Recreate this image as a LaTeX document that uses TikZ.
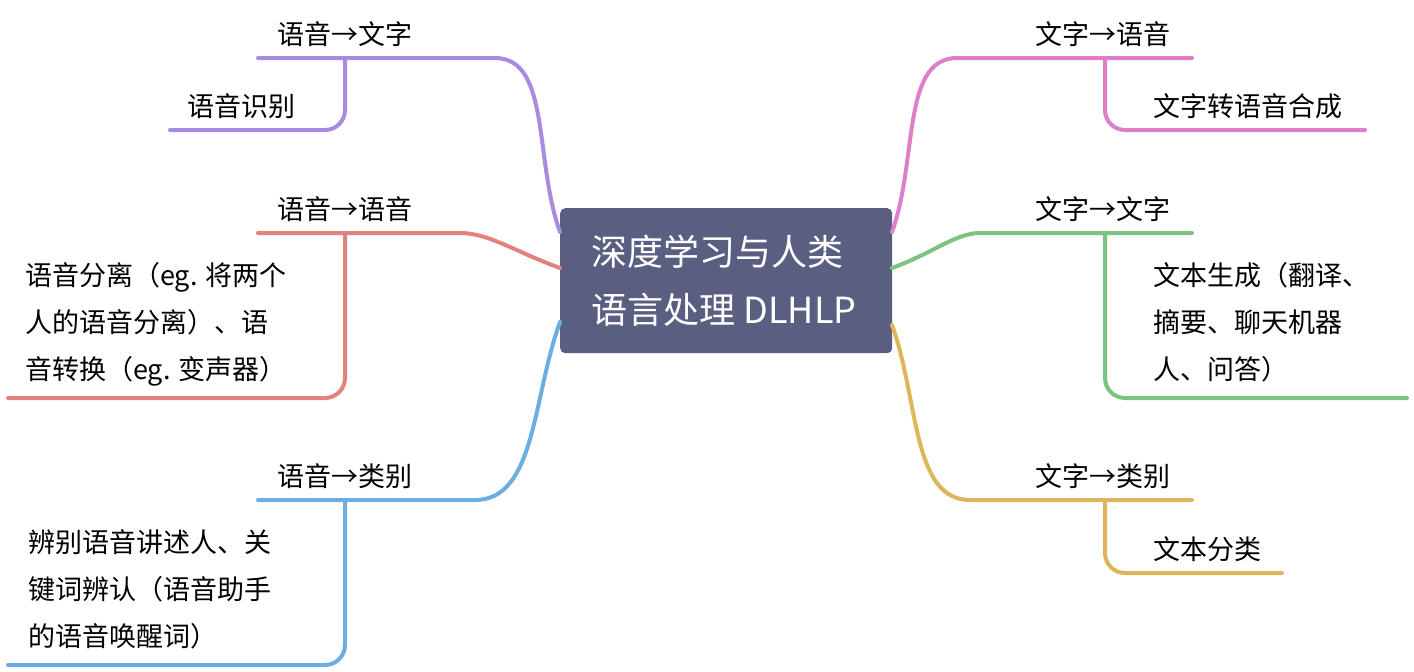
\documentclass[tikz,border=0pt]{standalone}
\usepackage{fontspec}
\setmainfont{Noto Sans CJK SC}
\usetikzlibrary{positioning}
\definecolor{hub}{HTML}{5A5F82}
\definecolor{cpurple}{HTML}{A68BDF}
\definecolor{cred}{HTML}{E3817E}
\definecolor{cblue}{HTML}{6CAEE0}
\definecolor{cpink}{HTML}{E07FC9}
\definecolor{cgreen}{HTML}{7BC37E}
\definecolor{cyellow}{HTML}{DDB65A}
\tikzset{
    branch/.style={
        line width=4pt,
        line cap=round,
        rounded corners=20pt,
    },
    topic/.style={
        anchor=south west,
        inner sep=0pt,
        font=\fontsize{27}{32}\selectfont,
    },
    leaf/.style={
        anchor=north west,
        inner sep=0pt,
        align=left,
        font=\fontsize{27}{47}\selectfont,
    },
}

\begin{document}
\begin{tikzpicture}[x=1pt,y=-1pt]
    \useasboundingbox (0,0) rectangle (1414,672);
    \node [fill=hub,rounded corners=5pt,minimum width=332pt,minimum height=145pt,anchor=north west] (hub) at (560,208) {};
    \node [text=white,anchor=west,align=left,font=\fontsize{36}{58}\selectfont] (hubtext) at (588,281) {深度学习与人类\\语言处理 DLHLP};

    % left side
    \node [topic] (s2w) at (277,47) {语音→文字};
    \draw [branch,cpurple] (560,232) to[out=110,in=0] (475,58) -- (258,58);
    \draw [branch,cpurple] (345,58) |- (170,130);
    \node [topic] (asr) at (187,119) {语音识别};

    \node [topic] (s2s) at (277,222) {语音→语音};
    \draw [branch,cred] (560,268) to[out=160,in=0] (440,233) -- (258,233);
    \draw [branch,cred] (345,233) |- (8,398);
    \node [leaf] (sep) at (25,262) {语音分离（eg. 将两个\\人的语音分离）、语\\音转换（eg. 变声器）};

    \node [topic] (s2c) at (277,489) {语音→类别};
    \draw [branch,cblue] (560,322) to[out=250,in=0] (455,500) -- (258,500);
    \draw [branch,cblue] (345,500) |- (8,665);
    \node [leaf] (spk) at (28,529) {辨别语音讲述人、关\\键词辨认（语音助手\\的语音唤醒词）};

    % right side
    \node [topic] (w2s) at (1035,47) {文字→语音};
    \draw [branch,cpink] (892,232) to[out=70,in=180] (977,58) -- (1192,58);
    \draw [branch,cpink] (1105,58) |- (1365,130);
    \node [topic] (tts) at (1153,119) {文字转语音合成};

    \node [topic] (w2w) at (1035,222) {文字→文字};
    \draw [branch,cgreen] (892,268) to[out=20,in=180] (1000,233) -- (1192,233);
    \draw [branch,cgreen] (1105,233) |- (1407,398);
    \node [leaf] (gen) at (1153,262) {文本生成（翻译、\\摘要、聊天机器\\人、问答）};

    \node [topic] (w2c) at (1035,489) {文字→类别};
    \draw [branch,cyellow] (892,325) to[out=-70,in=180] (990,500) -- (1192,500);
    \draw [branch,cyellow] (1105,500) |- (1282,573);
    \node [topic] (cls) at (1153,562) {文本分类};
\end{tikzpicture}
\end{document}
